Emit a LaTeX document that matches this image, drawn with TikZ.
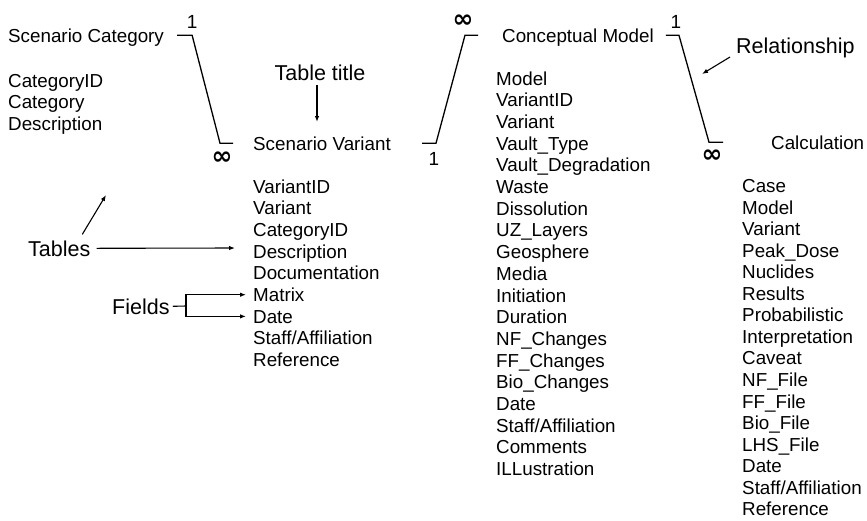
\documentclass[tikz,border=0pt]{standalone}
\usepackage{fontspec}
\setmainfont{Liberation Sans}[Ligatures=CommonOff]
\newfontfamily\symbolfont{DejaVu Sans}
\usetikzlibrary{arrows.meta,positioning}

\begin{document}
\begin{tikzpicture}[x=1pt,y=-1pt,>={Latex[length=6pt,width=4.5pt]},
  field/.style={anchor=base west,inner sep=0pt,text height=13.6pt,text depth=0pt,
    font=\fontsize{18.8}{21.7}\selectfont},
  note/.style={anchor=base west,inner sep=0pt,text height=15.4pt,text depth=0pt,
    font=\fontsize{21.5}{24}\selectfont},
  card/.style={inner sep=0pt,font=\fontsize{19}{21}\selectfont},
  many/.style={inner sep=0pt,font=\symbolfont\bfseries\fontsize{25}{26}\selectfont},
  link/.style={line width=1.3pt},
  pointer/.style={->,line width=1.1pt}]
\useasboundingbox (0,0) rectangle (867,520);

% tables
\node[field] (sct) at (8,42) {Scenario Category};
\foreach \f [count=\i from 0] in {CategoryID,Category,Description}
  \node[field] (sc-\i) at (8,{87+21.7*\i}) {\f};

\node[field] (svt) at (253,150) {Scenario Variant};
\foreach \f [count=\i from 0] in {VariantID,Variant,CategoryID,Description,Documentation,
    Matrix,Date,Staff/Affiliation,Reference}
  \node[field] (sv-\i) at (253,{193+21.7*\i}) {\f};

\node[field] (cmt) at (502,42) {Conceptual Model};
\foreach \f [count=\i from 0] in {Model,VariantID,Variant,Vault\_Type,Vault\_Degradation,
    Waste,Dissolution,UZ\_Layers,Geosphere,Media,Initiation,Duration,NF\_Changes,
    FF\_Changes,Bio\_Changes,Date,Staff/Affiliation,Comments,ILLustration}
  \node[field] (cm-\i) at (496,{85+21.7*\i}) {\f};

\node[field] (clt) at (771,149) {Calculation};
\foreach \f [count=\i from 0] in {Case,Model,Variant,Peak\_Dose,Nuclides,Results,
    Probabilistic,Interpretation,Caveat,NF\_File,FF\_File,Bio\_File,LHS\_File,Date,
    Staff/Affiliation,Reference}
  \node[field] (cl-\i) at (742,{192.5+21.55*\i}) {\f};

% relationships
\draw[link] ([xshift=13pt]sct.east) -- ++(15,0) coordinate (c1)
  -- ([xshift=-33pt]svt.west) coordinate (c2) -- ++(13,0);
\node[card,above=7pt of c1] (n1) {1};
\node[many,below=8pt of c2,xshift=2pt] (m1) {∞};

\draw[link] ([xshift=31pt]svt.east) -- ++(14,0) coordinate (c3)
  -- ([xshift=-37pt]cmt.west) coordinate (c4) -- ++(13,0);
\node[card,below=9pt of c3,xshift=-2pt] (n2) {1};
\node[many,above=8pt of c4,xshift=-2pt] (m2) {∞};

\draw[link] ([xshift=12pt]cmt.east) -- ++(13,0) coordinate (c5)
  -- ([xshift=-62pt]clt.west) coordinate (c6) -- ++(14,0);
\node[card,above=7pt of c5,xshift=-3pt] (n3) {1};
\node[many,below=7pt of c6,xshift=3pt] (m3) {∞};

% annotations
\node[note,anchor=base] (tt) at (320,80) {Table title};
\coordinate (ttTip) at (317,122);
\draw[pointer] ([xshift=-3pt,yshift=-5pt]tt.south) -- (ttTip);

\node[note] (rel) at (736,53) {Relationship};
\coordinate (relTip) at (702,74);
\draw[pointer] ([xshift=-6pt,yshift=-4pt]rel.base west) -- (relTip);

\node[note] (tbl) at (28,256) {Tables};
\coordinate (tblTip) at (235,248);
\coordinate (tblUp) at (106,195);
\draw[pointer] ([xshift=6pt]tbl.east) -- (tblTip);
\draw[pointer] ([xshift=23pt,yshift=6pt]tbl.north) -- (tblUp);

\node[note] (fld) at (112,314) {Fields};
\coordinate (fb) at (186,306);
\draw[line width=1.1pt] ([xshift=3pt]fld.east) -- (fb);
\draw[pointer,shorten >=7pt] (fb) |- (sv-5.west);
\draw[pointer,shorten >=7pt] (fb) |- (sv-6.west);
\end{tikzpicture}
\end{document}
